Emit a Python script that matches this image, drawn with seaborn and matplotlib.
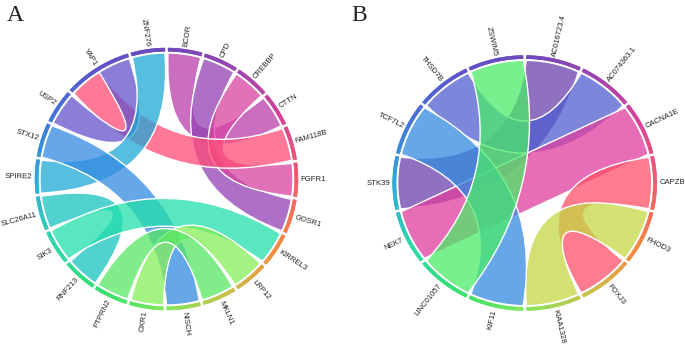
import numpy as np
import matplotlib
matplotlib.use("Agg")
import matplotlib.pyplot as plt
import seaborn as sns
from matplotlib.path import Path
from matplotlib.patches import PathPatch
from matplotlib.collections import PolyCollection
from matplotlib.colors import to_rgb

# panel A: genes clockwise from the top, links between them
GENES_A = ["BCOR", "CPD", "CREBBP", "CTTN", "FAM118B", "FGFR1", "GOSR1", "KIRREL3",
           "LRP12", "MKLN1", "NISCH", "OXR1", "PTPRN2", "RNF213", "SIK3", "SLC26A11",
           "SPIRE2", "STX12", "USP2", "YAP1", "ZNF276"]
LINKS_A = [("BCOR", "CTTN"), ("CPD", "GOSR1"), ("CREBBP", "FGFR1"), ("FAM118B", "YAP1"),
           ("USP2", "YAP1"), ("ZNF276", "SPIRE2"), ("STX12", "NISCH"), ("SLC26A11", "RNF213"),
           ("SIK3", "KIRREL3"), ("OXR1", "LRP12"), ("PTPRN2", "MKLN1")]
LINK_COLORS_A = ["#cc6ec0", "#ae70c6", "#e272b8", "#ff7898", "#8a7ed8", "#58bee0",
                 "#66a8e8", "#52d2d0", "#5ae6c0", "#a4f282", "#80ee8a"]

# panel B
GENES_B = ["AC016723.4", "AC074363.1", "CACNA1E", "CAPZB", "FHOD3", "FOXJ3", "KIAA1328",
           "KIF11", "LINC01057", "NEK7", "STK39", "TCF7L2", "THSD7B", "ZSWIM5"]
LINKS_B = [("AC016723.4", "STK39"), ("AC074363.1", "THSD7B"), ("CACNA1E", "NEK7"),
           ("CAPZB", "FOXJ3"), ("FHOD3", "KIAA1328"), ("KIF11", "TCF7L2"),
           ("LINC01057", "ZSWIM5")]
LINK_COLORS_B = ["#9070c0", "#7c86dc", "#e86eb6", "#ff7c8e", "#d2e272", "#66a8e8", "#78f08e"]

# outer track colours, every 30 degrees clockwise from the top
RING_STOPS = ["#6a44b8", "#9640b0", "#d83c98", "#f05868", "#f8843c", "#cabe44", "#80e858",
              "#30e068", "#28d8a8", "#28a8d8", "#4070d8", "#5a4ec8", "#6a44b8"]

ALPHA = 0.75
GAP = 1.4

sns.set_theme(style="white")
plt.rcParams["font.family"] = ["Liberation Sans", "DejaVu Sans"]

ring_pal = sns.blend_palette(RING_STOPS, n_colors=361)


def unit_xy(cw):
    t = np.radians(90 - np.asarray(cw, dtype=float))
    return np.column_stack([np.cos(t), np.sin(t)])


def chord_diagram(ax, genes, links, link_colors, center, radius):
    cx, cy = center
    rx, ry = radius

    def to_px(p):
        p = np.atleast_2d(p)
        return np.column_stack([cx + rx * p[:, 0], cy - ry * p[:, 1]])

    counts = {g: 0 for g in genes}
    for a, b in links:
        counts[a] += 1
        counts[b] += 1
    unit = (360 - len(genes) * GAP) / sum(counts.values())

    spans = {}
    pos = GAP / 2
    for g in genes:
        spans[g] = (pos, pos + counts[g] * unit)
        pos += counts[g] * unit + GAP

    # outer track with a colour gradient
    polys, cols = [], []
    for g in genes:
        s, e = spans[g]
        edges = np.linspace(s, e, max(2, int((e - s) / 0.5) + 1))
        for a0, a1 in zip(edges[:-1], edges[1:]):
            outer = to_px(unit_xy([a0, a1]) * 1.0)
            inner = to_px(unit_xy([a1, a0]) * 0.975)
            polys.append(np.vstack([outer, inner]))
            cols.append(ring_pal[int(round((a0 + a1) / 2)) % 361])
    ax.add_collection(PolyCollection(polys, facecolors=cols, edgecolors=cols, linewidths=0.4))

    # ribbons: both borders bent by the same amount, so bands keep their width
    used = {g: 0 for g in genes}
    R = 0.962
    for (a, b), col in zip(links, link_colors):
        ends = []
        for g in (a, b):
            s = spans[g][0] + used[g] * unit
            ends.append((s, s + unit))
            used[g] += 1
        (a1, a2), (b1, b2) = ends
        mid = (unit_xy([(a1 + a2) / 2])[0] + unit_xy([(b1 + b2) / 2])[0]) * R / 2
        arc1 = unit_xy(np.linspace(a1, a2, 30)) * R
        arc2 = unit_xy(np.linspace(b1, b2, 30)) * R
        c1 = (arc1[-1] + arc2[0]) / 2 - mid
        c2 = (arc2[-1] + arc1[0]) / 2 - mid
        verts = np.vstack([arc1, c1, arc2[0], arc2[1:], c2, arc1[0], arc1[0]])
        codes = ([Path.MOVETO] + [Path.LINETO] * 29 + [Path.CURVE3] * 2
                 + [Path.LINETO] * 29 + [Path.CURVE3] * 2 + [Path.CLOSEPOLY])
        base = np.clip(1 - (1 - np.array(to_rgb(col))) / ALPHA, 0, 1)
        ax.add_patch(PathPatch(Path(to_px(verts), codes), facecolor=(*base, ALPHA),
                               edgecolor="white", linewidth=1.0))

    # gene labels, radial
    for g in genes:
        s, e = spans[g]
        m = (s + e) / 2
        ang = 90 - m
        if ang <= -180:
            ang += 360
        if -90 < ang <= 90:
            rot, ha = ang, "left"
        else:
            rot, ha = (ang - 180 if ang > 90 else ang + 180), "right"
        x, y = to_px(unit_xy([m]) * 1.02)[0]
        ax.text(x, y, g, rotation=rot, ha=ha, va="center", rotation_mode="anchor",
                fontsize=5.6, color="#222222")


fig = plt.figure(figsize=(6.85, 3.44), dpi=100)
ax = fig.add_axes([0, 0, 1, 1])
ax.set_xlim(0, 685)
ax.set_ylim(344, 0)
ax.axis("off")

chord_diagram(ax, GENES_A, LINKS_A, LINK_COLORS_A, (166.5, 179), (131.5, 131))
chord_diagram(ax, GENES_B, LINKS_B, LINK_COLORS_B, (524.7, 183), (132, 127.5))

ax.text(7, 21, "A", fontsize=17, family="Liberation Serif", color="#222222", ha="left", va="baseline")
ax.text(351, 21, "B", fontsize=17, family="Liberation Serif", color="#222222", ha="left", va="baseline")

fig.savefig("out.png", dpi=100)
